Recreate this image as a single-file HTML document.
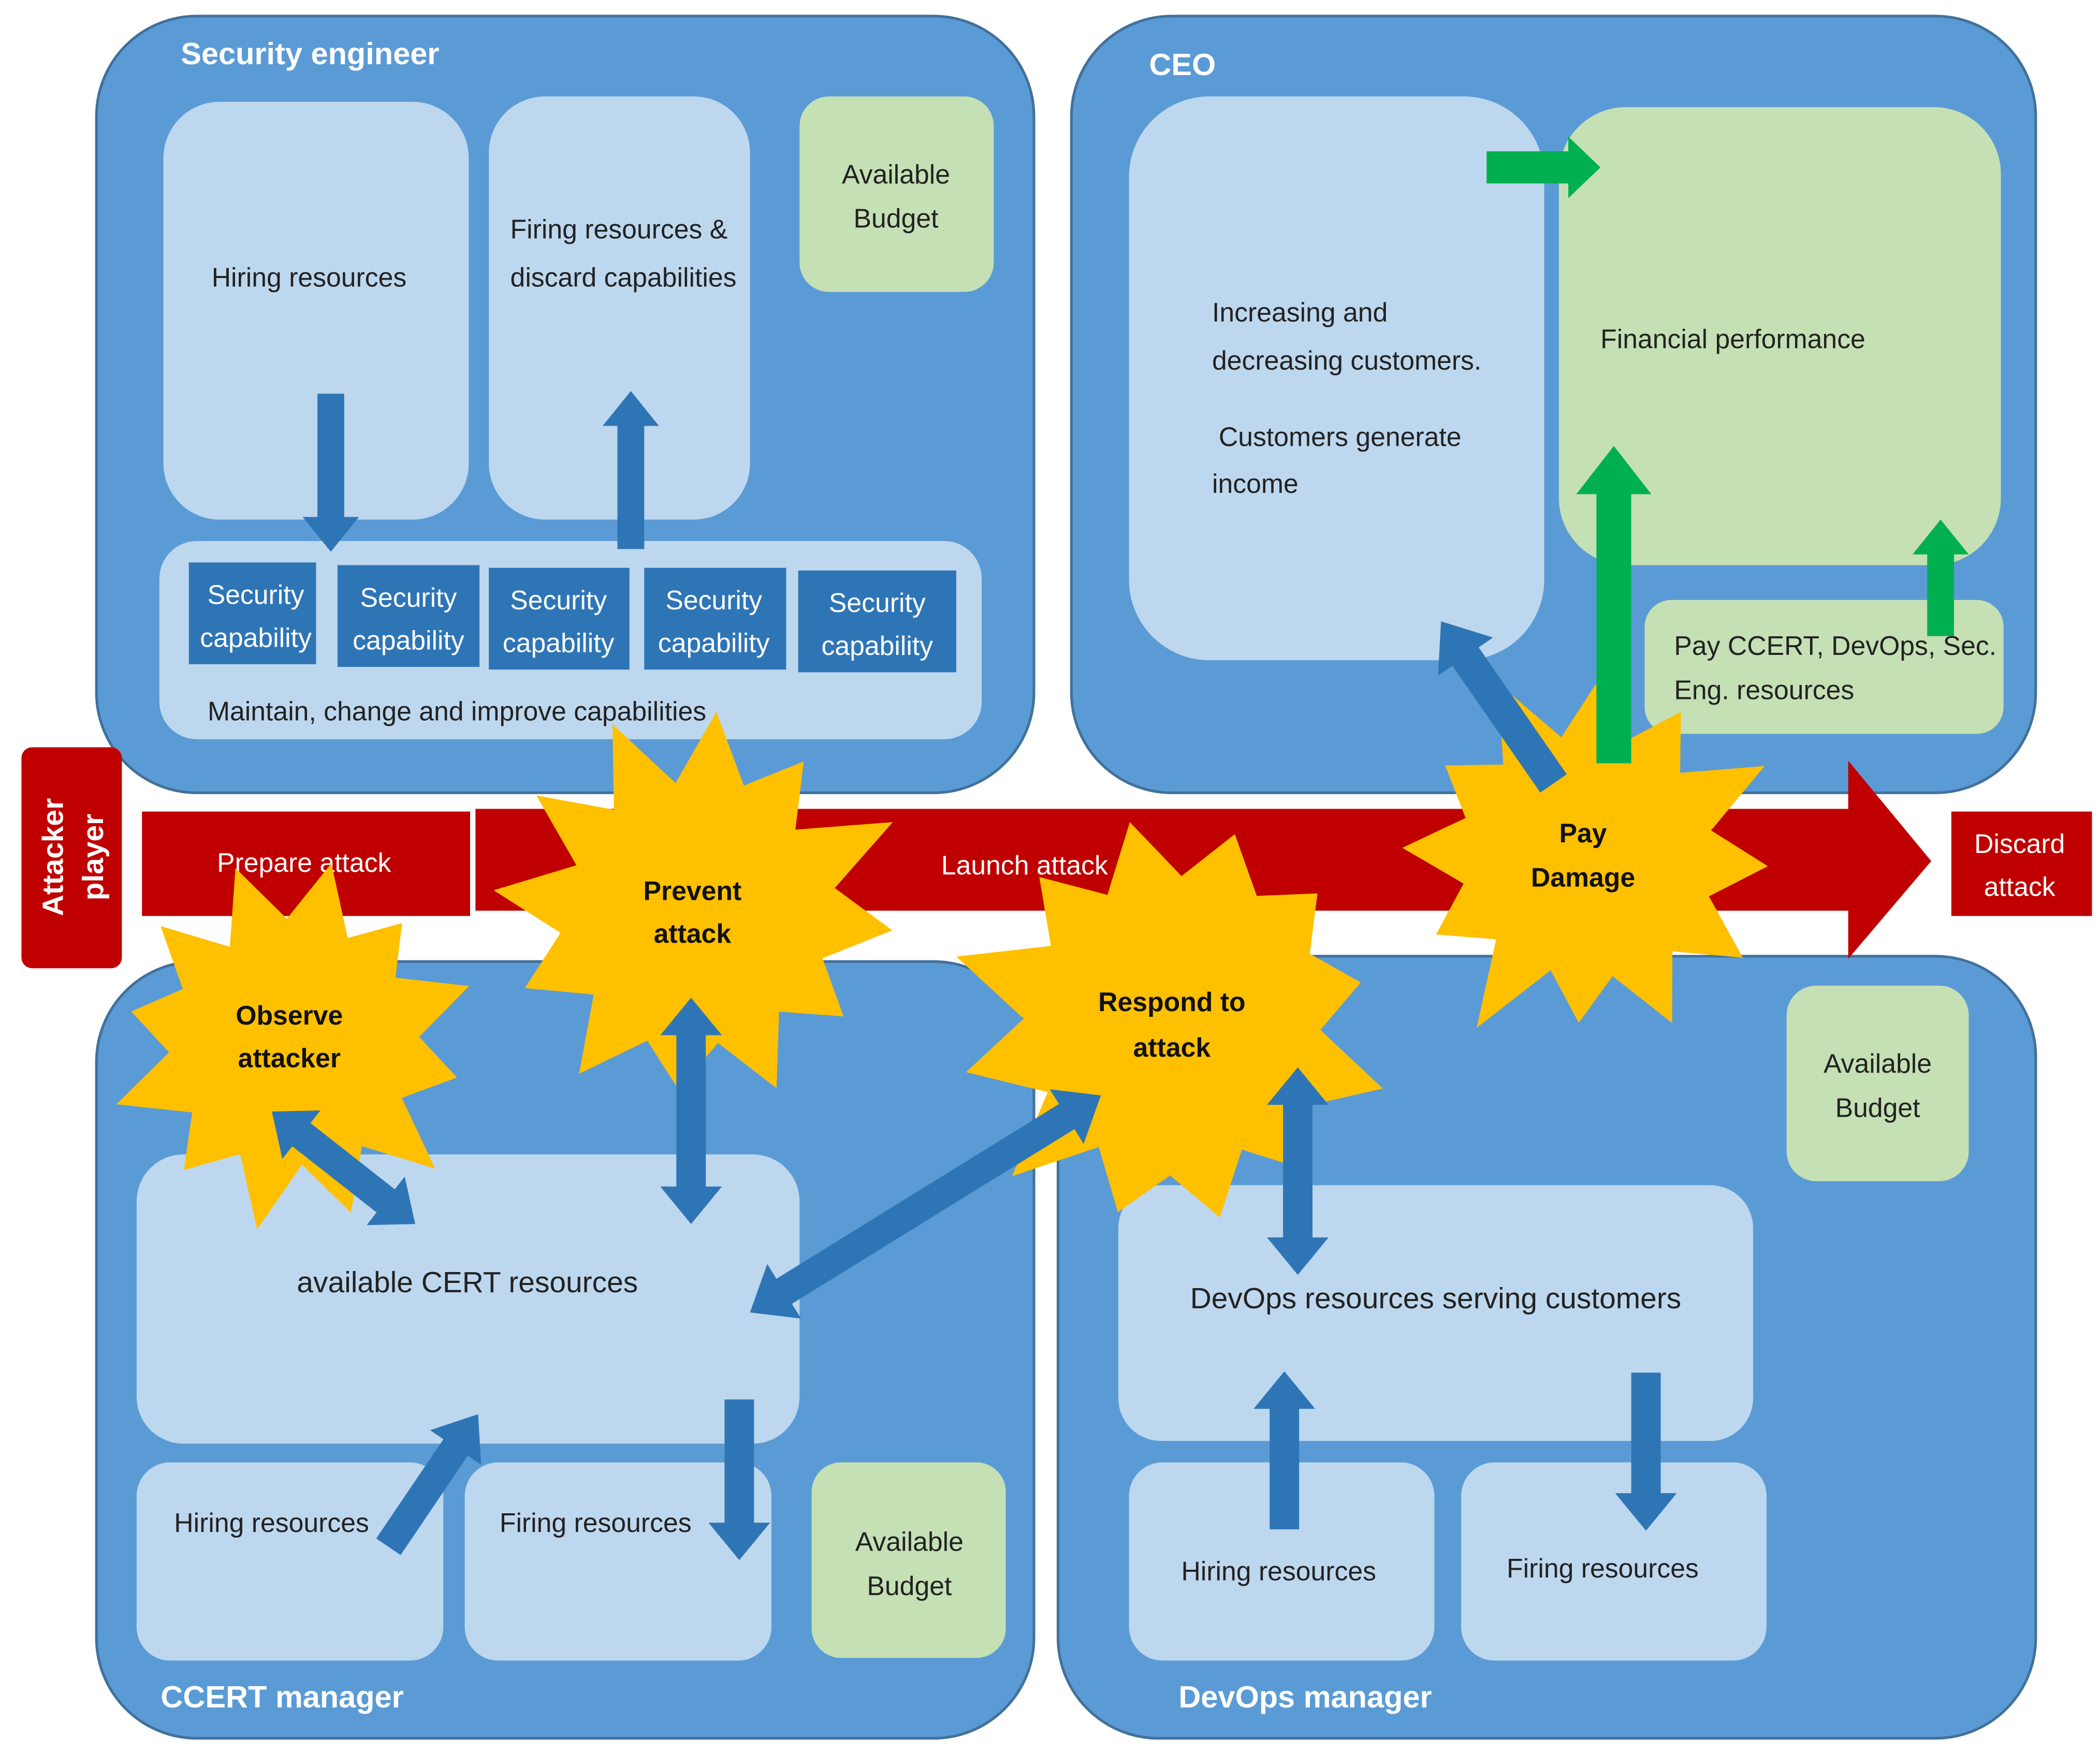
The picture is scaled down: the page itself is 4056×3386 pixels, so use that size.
<!DOCTYPE html>
<html><head><meta charset="utf-8"><style>
html,body{margin:0;padding:0;background:#fff}
svg{display:block}
text{font-family:"Liberation Sans",sans-serif}
</style></head><body>
<svg id="s" width="4056" height="3386" viewBox="0 0 1568 1309" xmlns="http://www.w3.org/2000/svg">
<defs>
<style>
.pan{fill:#5B9BD5;stroke:#41719C;stroke-width:2}
.lt{fill:#BDD7EE}
.gr{fill:#C5E0B4}
.cap{fill:#2E75B6}
.ar{fill:#2E75B6}
.ga{fill:#00B050}
.t{font-size:20px;fill:#222}
.tw{font-size:20px;fill:#fff}
.ti{font-size:23px;font-weight:bold;fill:#fff}
.tb{font-size:20px;font-weight:bold;fill:#111}
</style>
</defs>
<!-- panels -->
<rect class="pan" x="72" y="12" width="700" height="580" rx="75"/>
<rect class="pan" x="800" y="12" width="720" height="580" rx="75"/>
<rect class="pan" x="72" y="718" width="700" height="580" rx="75"/>
<rect class="pan" x="790" y="714" width="730" height="584" rx="75"/>
<text class="ti" x="135" y="48">Security engineer</text>
<text class="ti" x="858" y="56">CEO</text>
<text class="ti" x="120" y="1275">CCERT manager</text>
<text class="ti" x="880" y="1275">DevOps manager</text>

<!-- SE -->
<rect class="lt" x="122" y="76" width="228" height="312" rx="42"/>
<rect class="lt" x="365" y="72" width="195" height="316" rx="42"/>
<rect class="gr" x="597" y="72" width="145" height="146" rx="22"/>
<rect class="lt" x="119" y="404" width="614" height="148" rx="28"/>
<text class="t" x="158" y="214">Hiring resources</text>
<text class="t" x="381" y="178">Firing resources &amp;</text>
<text class="t" x="381" y="214">discard capabilities</text>
<text class="t" x="669" y="137" text-anchor="middle">Available</text>
<text class="t" x="669" y="170" text-anchor="middle">Budget</text>
<rect class="cap" x="141" y="420" width="95" height="76"/>
<rect class="cap" x="252" y="422" width="106" height="76"/>
<rect class="cap" x="365" y="424" width="105" height="76"/>
<rect class="cap" x="481" y="424" width="106" height="76"/>
<rect class="cap" x="596" y="426" width="118" height="76"/>
<g class="tw" text-anchor="middle">
<text x="191" y="451">Security</text><text x="191" y="483">capability</text>
<text x="305" y="453">Security</text><text x="305" y="485">capability</text>
<text x="417" y="455">Security</text><text x="417" y="487">capability</text>
<text x="533" y="455">Security</text><text x="533" y="487">capability</text>
<text x="655" y="457">Security</text><text x="655" y="489">capability</text>
</g>
<text class="t" x="155" y="538">Maintain, change and improve capabilities</text>

<!-- CEO -->
<rect class="lt" x="843" y="72" width="310" height="421" rx="60"/>
<rect class="gr" x="1164" y="80" width="330" height="342" rx="50"/>
<rect class="gr" x="1228" y="448" width="268" height="100" rx="20"/>
<text class="t" x="905" y="240">Increasing and</text>
<text class="t" x="905" y="276">decreasing  customers.</text>
<text class="t" x="910" y="333">Customers generate</text>
<text class="t" x="905" y="368">income</text>
<text class="t" x="1195" y="260">Financial performance</text>
<text class="t" x="1250" y="489">Pay CCERT, DevOps, Sec.</text>
<text class="t" x="1250" y="522">Eng. resources</text>

<!-- CCERT -->
<rect class="lt" x="102" y="862" width="495" height="216" rx="35"/>
<rect class="lt" x="102" y="1092" width="229" height="148" rx="25"/>
<rect class="lt" x="347" y="1092" width="229" height="148" rx="25"/>
<rect class="gr" x="606" y="1092" width="145" height="146" rx="22"/>
<text class="t" x="349" y="965" text-anchor="middle" style="font-size:22px">available CERT resources</text>
<text class="t" x="130" y="1144">Hiring resources</text>
<text class="t" x="373" y="1144">Firing resources</text>
<text class="t" x="679" y="1158" text-anchor="middle">Available</text>
<text class="t" x="679" y="1191" text-anchor="middle">Budget</text>

<!-- DevOps -->
<rect class="lt" x="835" y="885" width="474" height="191" rx="32"/>
<rect class="lt" x="843" y="1092" width="228" height="148" rx="25"/>
<rect class="lt" x="1091" y="1092" width="228" height="148" rx="25"/>
<rect class="gr" x="1334" y="736" width="136" height="146" rx="22"/>
<text class="t" x="1072" y="977" text-anchor="middle" style="font-size:22px">DevOps resources serving customers</text>
<text class="t" x="882" y="1180">Hiring resources</text>
<text class="t" x="1125" y="1178">Firing resources</text>
<text class="t" x="1402" y="801" text-anchor="middle">Available</text>
<text class="t" x="1402" y="834" text-anchor="middle">Budget</text>

<!-- attacker row -->
<rect x="16" y="558" width="75" height="165" rx="8" fill="#C00000"/>
<text transform="translate(47,640) rotate(-90)" text-anchor="middle" style="font-size:22px;font-weight:bold;fill:#fff">Attacker</text>
<text transform="translate(77,640) rotate(-90)" text-anchor="middle" style="font-size:22px;font-weight:bold;fill:#fff">player</text>
<rect x="106" y="606" width="245" height="78" fill="#C00000"/>
<polygon points="355,604 1380,604 1380,568 1442,643 1380,716 1380,680 355,680" fill="#C00000"/>
<rect x="1457" y="606" width="105" height="78" fill="#C00000"/>
<text class="tw" x="227" y="651" text-anchor="middle">Prepare attack</text>
<text class="tw" x="765" y="653" text-anchor="middle">Launch attack</text>
<text class="tw" x="1508" y="637" text-anchor="middle">Discard</text>
<text class="tw" x="1508" y="669" text-anchor="middle">attack</text>

<g id="bursts"></g>
<g class="tb" text-anchor="middle">
<text x="216" y="765">Observe</text><text x="216" y="797">attacker</text>
<text x="517" y="672">Prevent</text><text x="517" y="704">attack</text>
<text x="875" y="755">Respond to</text><text x="875" y="789">attack</text>
<text x="1182" y="629">Pay</text><text x="1182" y="662">Damage</text>
</g>
<g id="arrows"></g>
</svg>
<script>
var NS="http://www.w3.org/2000/svg";
function burst(cx,cy,ro,ri,n,rot,seed){
 var pts=[],s=seed;
 function rnd(){s=(s*9301+49297)%233280;return s/233280;}
 for(var i=0;i<2*n;i++){
  var a=rot+i*Math.PI/n;
  var r=(i%2==0)?ro*(0.85+0.2*rnd()):ri*(0.95+0.1*rnd());
  pts.push((cx+r*Math.cos(a)).toFixed(1)+","+(cy+r*Math.sin(a)).toFixed(1));
 }
 var p=document.createElementNS(NS,"polygon");
 p.setAttribute("points",pts.join(" "));p.setAttribute("fill","#FFC000");
 document.getElementById("bursts").appendChild(p);
}
burst(220,780,135,92,12,0.2,3);
burst(520,680,155,100,12,0.1,7);
burst(878,765,165,110,12,0.3,11);
burst(1185,640,145,92,12,0.05,5);
function arrow(x1,y1,x2,y2,w,hw,hl,dbl,cls){
 var dx=x2-x1,dy=y2-y1,L=Math.sqrt(dx*dx+dy*dy),a=Math.atan2(dy,dx)*180/Math.PI;
 var p;
 if(dbl) p=[[0,0],[hl,-hw/2],[hl,-w/2],[L-hl,-w/2],[L-hl,-hw/2],[L,0],[L-hl,hw/2],[L-hl,w/2],[hl,w/2],[hl,hw/2]];
 else p=[[0,-w/2],[L-hl,-w/2],[L-hl,-hw/2],[L,0],[L-hl,hw/2],[L-hl,w/2],[0,w/2]];
 var e=document.createElementNS(NS,"polygon");
 e.setAttribute("points",p.map(function(q){return q.join(",")}).join(" "));
 e.setAttribute("transform","translate("+x1+","+y1+") rotate("+a+")");
 e.setAttribute("class",cls||"ar");
 document.getElementById("arrows").appendChild(e);
}
arrow(247,294,247,412,20,42,26,0);
arrow(471,410,471,292,20,42,26,0);
arrow(1160,585,1076,464,24,50,32,0);
arrow(1110,125,1195,125,24,46,24,0,"ga");
arrow(1205,570,1205,333,26,56,36,0,"ga");
arrow(1449,475,1449,388,20,42,26,0,"ga");
arrow(203,830,310,914,22,46,28,1);
arrow(516,745,516,914,22,46,28,1);
arrow(560,980,822,818,22,48,30,1);
arrow(290,1155,357,1056,22,46,30,0);
arrow(552,1045,552,1165,22,46,28,0);
arrow(969,797,969,952,22,46,28,1);
arrow(959,1142,959,1024,22,46,28,0);
arrow(1229,1025,1229,1143,22,46,28,0);
</script>
</body></html>
